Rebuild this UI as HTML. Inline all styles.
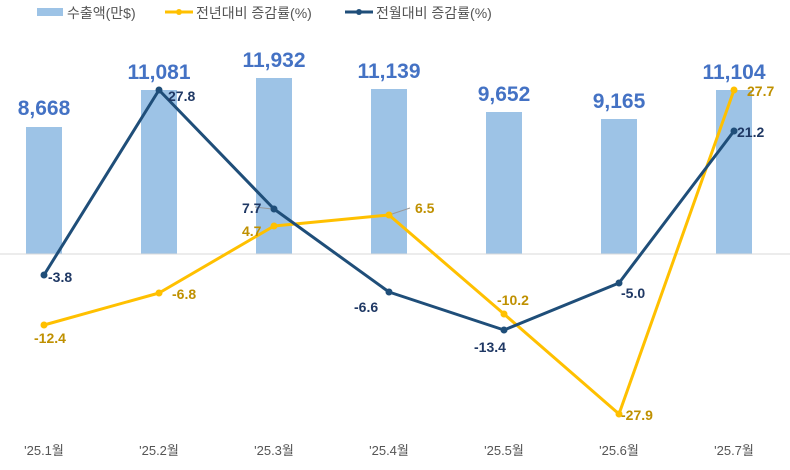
<!DOCTYPE html>
<html><head><meta charset="utf-8"><style>
html,body{margin:0;padding:0;background:#fff}
svg{display:block;font-family:"Liberation Sans","Noto Sans CJK KR",sans-serif}
</style></head><body>
<svg width="790" height="470" viewBox="0 0 790 470" xmlns="http://www.w3.org/2000/svg">
<rect x="37" y="8" width="26" height="8" fill="#9dc3e6"/>
<text x="67" y="18" font-size="14" fill="#555">수출액(만$)</text>
<line x1="165" y1="12" x2="193" y2="12" stroke="#ffc000" stroke-width="3"/><circle cx="179" cy="12" r="3" fill="#ffc000"/>
<text x="196" y="18" font-size="14" fill="#555">전년대비 증감률(%)</text>
<line x1="345" y1="12" x2="373" y2="12" stroke="#1f4e79" stroke-width="3"/><circle cx="359" cy="12" r="3" fill="#1f4e79"/>
<text x="376" y="18" font-size="14" fill="#555">전월대비 증감률(%)</text>
<g fill="#9dc3e6">
<rect x="26" y="127" width="36" height="127"/>
<rect x="141" y="90" width="36" height="164"/>
<rect x="256" y="78" width="36" height="176"/>
<rect x="371" y="89" width="36" height="165"/>
<rect x="486" y="112" width="36" height="142"/>
<rect x="601" y="119" width="36" height="135"/>
<rect x="716" y="90" width="36" height="164"/>
</g>
<line x1="0" y1="254" x2="790" y2="254" stroke="#d9d9d9" stroke-width="1"/>
<g font-size="21" font-weight="bold" fill="#4472c4" text-anchor="middle">
<text x="44" y="115">8,668</text>
<text x="159" y="79">11,081</text>
<text x="274" y="67">11,932</text>
<text x="389" y="78">11,139</text>
<text x="504" y="101">9,652</text>
<text x="619" y="108">9,165</text>
<text x="734" y="79">11,104</text>
</g>
<line x1="255" y1="207" x2="272" y2="209" stroke="#999" stroke-width="1"/>
<line x1="389" y1="215" x2="410" y2="208" stroke="#999" stroke-width="1"/>
<polyline points="44,325 159,293 274,226 389,215 504,314 619,414 734,90" fill="none" stroke="#ffc000" stroke-width="3" stroke-linejoin="round"/>
<g fill="#ffc000"><circle cx="44" cy="325" r="3.5"/><circle cx="159" cy="293" r="3.5"/><circle cx="274" cy="226" r="3.5"/><circle cx="389" cy="215" r="3.5"/><circle cx="504" cy="314" r="3.5"/><circle cx="619" cy="414" r="3.5"/><circle cx="734" cy="90" r="3.5"/></g>
<polyline points="44,275 159,90 274,209 389,292 504,330 619,283 734,131" fill="none" stroke="#1f4e79" stroke-width="3" stroke-linejoin="round"/>
<g fill="#1f4e79"><circle cx="44" cy="275" r="3.5"/><circle cx="159" cy="90" r="3.5"/><circle cx="274" cy="209" r="3.5"/><circle cx="389" cy="292" r="3.5"/><circle cx="504" cy="330" r="3.5"/><circle cx="619" cy="283" r="3.5"/><circle cx="734" cy="131" r="3.5"/></g>
<g font-size="14" font-weight="bold" fill="#bf9000">
<text x="34" y="343">-12.4</text>
<text x="172" y="299">-6.8</text>
<text x="242" y="236">4.7</text>
<text x="415" y="213">6.5</text>
<text x="497" y="305">-10.2</text>
<text x="621" y="420">-27.9</text>
<text x="747" y="96">27.7</text>
</g>
<g font-size="14" font-weight="bold" fill="#1f3864">
<text x="48" y="282">-3.8</text>
<text x="168" y="101">27.8</text>
<text x="242" y="213">7.7</text>
<text x="354" y="312">-6.6</text>
<text x="474" y="352">-13.4</text>
<text x="621" y="298">-5.0</text>
<text x="737" y="137">21.2</text>
</g>
<g font-size="13" fill="#555" text-anchor="middle">
<text x="44" y="455">'25.1월</text>
<text x="159" y="455">'25.2월</text>
<text x="274" y="455">'25.3월</text>
<text x="389" y="455">'25.4월</text>
<text x="504" y="455">'25.5월</text>
<text x="619" y="455">'25.6월</text>
<text x="734" y="455">'25.7월</text>
</g>
</svg>
</body></html>
